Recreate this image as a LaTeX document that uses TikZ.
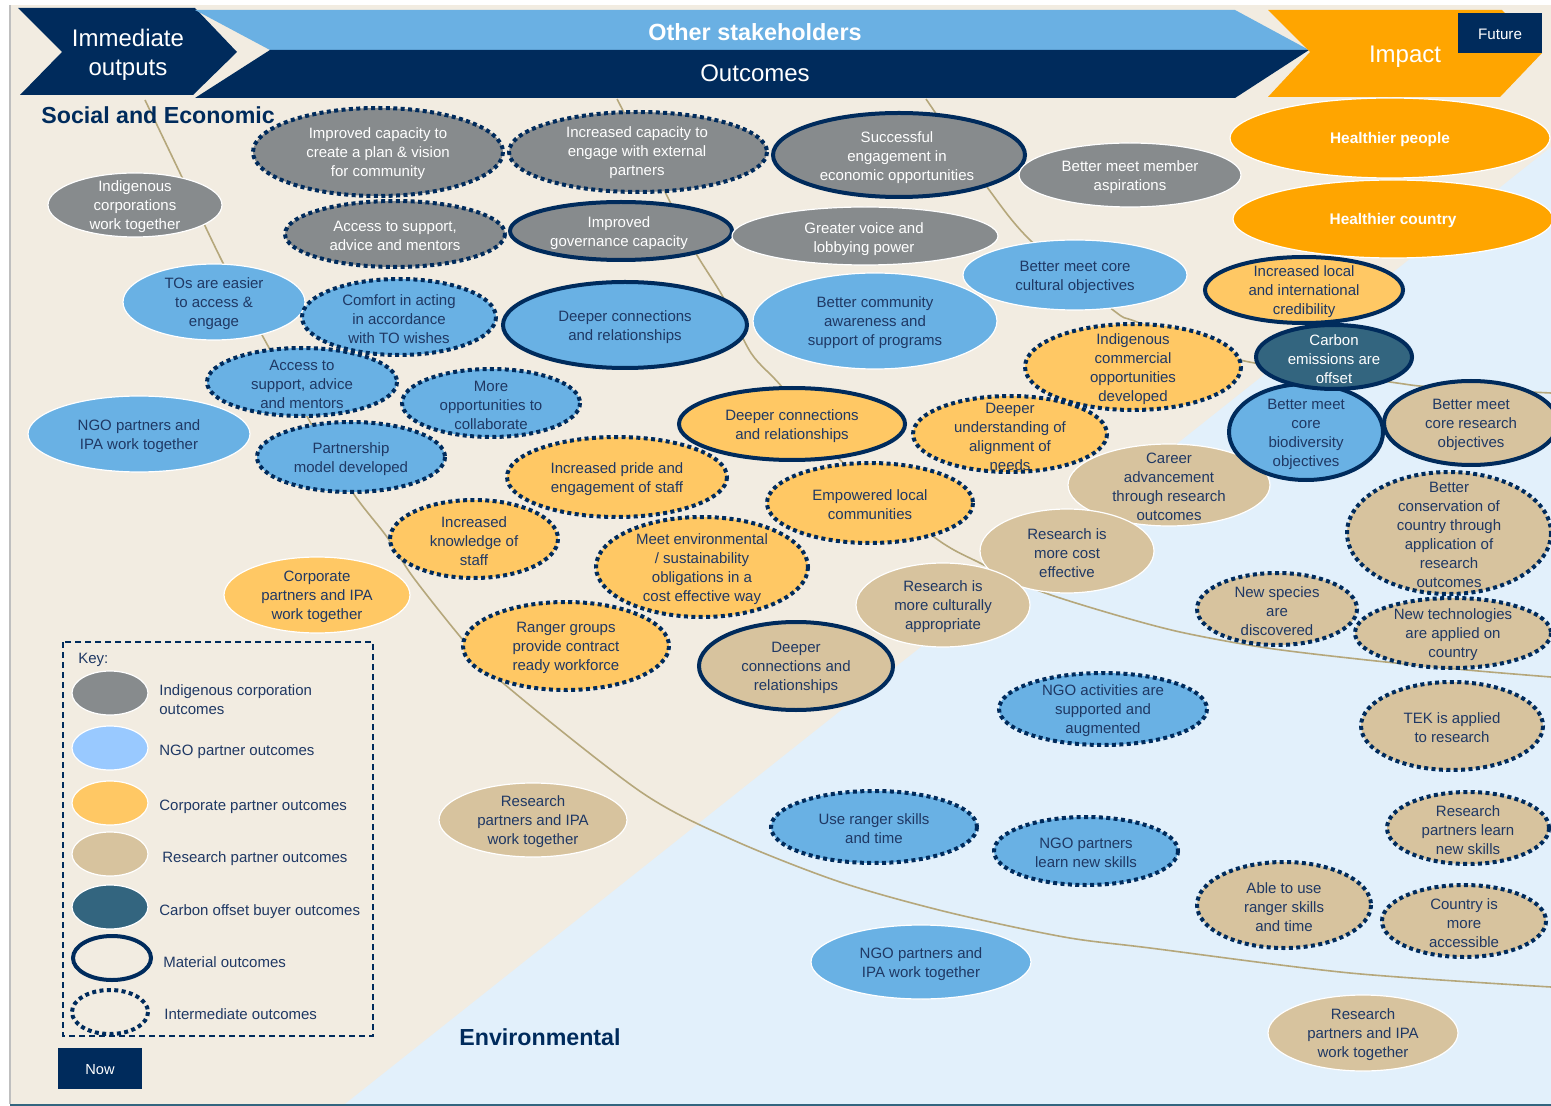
\documentclass[tikz,border=0pt]{standalone}
\usepackage{fontspec}
\setmainfont{Liberation Sans}
\usepackage{tikz}
\usetikzlibrary{backgrounds}
\definecolor{navy}{HTML}{002B5C}
\definecolor{inktext}{HTML}{1F3864}
\definecolor{greyfill}{HTML}{878B8D}
\definecolor{ngofill}{HTML}{69B1E4}
\definecolor{ngokey}{HTML}{99C9FF}
\definecolor{corpfill}{HTML}{FFC864}
\definecolor{resfill}{HTML}{D7C39E}
\definecolor{carbfill}{HTML}{33657F}
\definecolor{impfill}{HTML}{FFA500}
\definecolor{sand}{HTML}{F2ECE1}
\definecolor{sky}{HTML}{E2F0FB}
\definecolor{band}{HTML}{6AB0E3}
\definecolor{strand}{HTML}{B5A77B}
\newcommand{\rimwidth}{2pt}
\newcommand{\txtsize}{\fontsize{7.5}{9.5}\selectfont}

\begin{document}
\begin{tikzpicture}[x=0.5pt, y=-0.5pt,
  ntxt/.style={align=center, inner sep=0pt, text=inktext, font=\txtsize, yshift=-1pt},
  wtxt/.style={ntxt, text=white},
  soft/.style={draw=white, line width=0.6pt},
  material/.style={draw=navy, line width=\rimwidth},
  interm/.style={draw=navy, line width=\rimwidth, dash pattern=on 2pt off 1.7pt}]
\useasboundingbox (0,0) rectangle (1551,1106);
%headers
\node[wtxt, font=\fontsize{12}{14.5}\selectfont] (imm) at (128,53) {Immediate\\outputs};
\node[wtxt, font=\bfseries\fontsize{11.7}{14}\selectfont] (other) at (755,30) {Other stakeholders};
\node[wtxt, font=\fontsize{12}{14}\selectfont] (outc) at (755,71) {Outcomes};
\node[wtxt, font=\fontsize{12}{14}\selectfont] (impact) at (1405,55) {Impact};
\node[wtxt, font=\fontsize{7.6}{9}\selectfont] (future) at (1500,32) {Future};
\node[ntxt, text=navy, anchor=west, font=\bfseries\fontsize{11.6}{14}\selectfont] (soc) at (41,113) {Social and Economic};
\node[ntxt, text=navy, anchor=west, font=\bfseries\fontsize{11.6}{14}\selectfont] (env) at (459,1035) {Environmental};
\node[wtxt, font=\fontsize{7.3}{9}\selectfont] (now) at (100,1068) {Now};
%grey
\node[wtxt] (g1) at (135,205) {Indigenous\\corporations\\work together};
\node[wtxt] (g2) at (378,152) {Improved capacity to\\create a plan \& vision\\for community};
\node[wtxt] (g3) at (395,234) {Access to support,\\advice and mentors};
\node[wtxt] (g4) at (637,151) {Increased capacity to\\engage with external\\partners};
\node[wtxt] (g5) at (897,156) {Successful\\engagement in\\economic opportunities};
\node[wtxt] (g6) at (619,231) {Improved\\governance capacity};
\node[wtxt] (g7) at (864,237) {Greater voice and\\lobbying power};
\node[wtxt] (g8) at (1130,175) {Better meet member\\aspirations};
%impact
\node[wtxt, font=\bfseries\fontsize{7.7}{9.5}\selectfont] (i1) at (1390,138) {Healthier people};
\node[wtxt, font=\bfseries\fontsize{7.7}{9.5}\selectfont] (i2) at (1393,219) {Healthier country};
%ngo
\node[ntxt] (b1) at (214,302) {TOs are easier\\to access \&\\engage};
\node[ntxt] (b2) at (399,317) {Comfort in acting\\in accordance\\with TO wishes};
\node[ntxt] (b3) at (302,382) {Access to\\support, advice\\and mentors};
\node[ntxt] (b4) at (139,434) {NGO partners and\\IPA work together};
\node[ntxt] (b5) at (351,457) {Partnership\\model developed};
\node[ntxt] (b6) at (491,403) {More\\opportunities to\\collaborate};
\node[ntxt] (b7) at (625,325) {Deeper connections\\and relationships};
\node[ntxt] (b8) at (875,321) {Better community\\awareness and\\support of programs};
\node[ntxt] (b9) at (1075,275) {Better meet core\\cultural objectives};
\node[ntxt] (b10) at (1306,432) {Better meet\\core\\biodiversity\\objectives};
\node[ntxt] (b11) at (1103,709) {NGO activities are\\supported and\\augmented};
\node[ntxt] (b12) at (874,827) {Use ranger skills\\and time};
\node[ntxt] (b13) at (1086,851) {NGO partners\\learn new skills};
\node[ntxt] (b14) at (921,962) {NGO partners and\\IPA work together};
%corporate
\node[ntxt] (o1) at (1304,290) {Increased local\\and international\\credibility};
\node[ntxt] (o2) at (1133,367) {Indigenous\\commercial\\opportunities\\developed};
\node[ntxt] (o3) at (792,424) {Deeper connections\\and relationships};
\node[ntxt] (o4) at (1010,435) {Deeper\\understanding of\\alignment of\\needs};
\node[ntxt] (o5) at (617,477) {Increased pride and\\engagement of staff};
\node[ntxt] (o6) at (870,503) {Empowered local\\communities};
\node[ntxt] (o7) at (474,539) {Increased\\knowledge of\\staff};
\node[ntxt] (o8) at (702,567) {Meet environmental\\/ sustainability\\obligations in a\\cost effective way};
\node[ntxt] (o9) at (317,595) {Corporate\\partners and IPA\\work together};
\node[ntxt] (o10) at (566,646) {Ranger groups\\provide contract\\ready workforce};
%research
\node[ntxt] (t1) at (796,666) {Deeper\\connections and\\relationships};
\node[ntxt] (t2) at (943,605) {Research is\\more culturally\\appropriate};
\node[ntxt] (t3) at (1067,551) {Research is\\more cost\\effective};
\node[ntxt] (t4) at (1169,485) {Career\\advancement\\through research\\outcomes};
\node[ntxt] (t5) at (1471,423) {Better meet\\core research\\objectives};
\node[ntxt] (t6) at (1449,533) {Better\\conservation of\\country through\\application of\\research\\outcomes};
\node[ntxt] (t7) at (1277,609) {New species\\are\\discovered};
\node[ntxt] (t8) at (1453,633) {New technologies\\are applied on\\country};
\node[ntxt] (t9) at (1452,726) {TEK is applied\\to research};
\node[ntxt] (t10) at (1468,828) {Research\\partners learn\\new skills};
\node[ntxt] (t11) at (1284,905) {Able to use\\ranger skills\\and time};
\node[ntxt] (t12) at (1464,921) {Country is\\more\\accessible};
\node[ntxt] (t13) at (1363,1033) {Research\\partners and IPA\\work together};
\node[ntxt] (t14) at (533,820) {Research\\partners and IPA\\work together};
%carbon
\node[wtxt] (c1) at (1334,357) {Carbon\\emissions are\\offset};
%key
\node[ntxt, anchor=west] (key) at (78,658) {Key:};
\node[ntxt, anchor=west, align=left] (k1) at (159,698) {Indigenous corporation\\outcomes};
\node[ntxt, anchor=west] (k2) at (159,750) {NGO partner outcomes};
\node[ntxt, anchor=west] (k3) at (159,805) {Corporate partner outcomes};
\node[ntxt, anchor=west] (k4) at (162,857) {Research partner outcomes};
\node[ntxt, anchor=west] (k5) at (159,910) {Carbon offset buyer outcomes};
\node[ntxt, anchor=west] (k6) at (163,960) {Material outcomes};
\node[ntxt, anchor=west] (k7) at (164,1012) {Intermediate outcomes};
\begin{scope}[on background layer]
\fill[sand] (10,5) rectangle (1551,1104);
\fill[sky] (345,1104) -- (1551,147) -- (1551,1104) -- cycle;
\draw[black!25, line width=0.8pt] (10,5) -- (10,1104);
\draw[carbfill, line width=1pt] (10,1105) -- (1551,1105);
\draw[strand, line width=0.8pt] plot[smooth] coordinates {(145,100) (180,173) (223,263) (262,335) (313,427) (353,493) (387,537) (413,577) (463,640) (503,683) (641,792) (733,840) (840,882) (947,912) (1064,937) (1150,948) (1350,973) (1551,987)};
\draw[strand, line width=0.8pt] plot[smooth] coordinates {(617,99) (664,190) (694,250) (723,297) (751,353) (782,387) (837,457) (934,537) (980,563) (1037,590) (1109,613) (1180,632) (1267,648) (1367,660) (1467,670) (1551,677)};
\draw[strand, line width=0.8pt] plot[smooth] coordinates {(926,99) (987,187) (1030,240) (1113,310) (1137,322) (1240,360) (1390,382) (1433,387) (1551,393)};
%arrows
\fill[navy] (18,8) -- (195,8) -- (237,52) -- (193,95) -- (20,95) -- (62,52) -- cycle;
\fill[band] (195,10) -- (1235,10) -- (1309,50) -- (270,50) -- cycle;
\fill[navy] (270,50) -- (1309,50) -- (1235,98) -- (195,98) -- cycle;
\fill[impfill] (1268,10) -- (1502,10) -- (1542,53) -- (1500,97) -- (1268,97) -- (1310,52) -- cycle;
\fill[navy] (1458,13) rectangle (1542,53);
\fill[navy] (58,1048) rectangle (142,1089);
%grey
\filldraw[fill=greyfill, soft] (135,205) ellipse (87 and 32);
\filldraw[fill=greyfill, interm] (378,152) ellipse (125 and 44);
\filldraw[fill=greyfill, interm] (395,234) ellipse (110 and 33);
\filldraw[fill=greyfill, interm] (638,152) ellipse (129 and 40);
\filldraw[fill=greyfill, material] (899,155) ellipse (126 and 42);
\filldraw[fill=greyfill, material] (621,231) ellipse (111 and 29);
\filldraw[fill=greyfill, soft] (865,236) ellipse (133 and 29);
\filldraw[fill=greyfill, soft] (1130,175) ellipse (111 and 32);
%impact
\filldraw[fill=impfill, soft] (1390,138) ellipse (160 and 40);
\filldraw[fill=impfill, soft] (1393,219) ellipse (160 and 39);
%ngo
\filldraw[fill=ngofill, soft] (214,302) ellipse (91 and 38);
\filldraw[fill=ngofill, interm] (399,317) ellipse (97 and 38);
\filldraw[fill=ngofill, interm] (302,382) ellipse (95 and 34);
\filldraw[fill=ngofill, soft] (139,434) ellipse (111 and 38);
\filldraw[fill=ngofill, interm] (351,457) ellipse (94 and 35);
\filldraw[fill=ngofill, interm] (491,403) ellipse (89 and 34);
\filldraw[fill=ngofill, material] (625,325) ellipse (122 and 43);
\filldraw[fill=ngofill, soft] (875,321) ellipse (122 and 48);
\filldraw[fill=ngofill, soft] (1075,275) ellipse (112 and 35);
\filldraw[fill=ngofill, interm] (1103,709) ellipse (104 and 36);
\filldraw[fill=ngofill, interm] (874,827) ellipse (103 and 36);
\filldraw[fill=ngofill, interm] (1086,851) ellipse (92 and 34);
\filldraw[fill=ngofill, soft] (921,962) ellipse (110 and 37);
%corporate
\filldraw[fill=corpfill, material] (1304,290) ellipse (99 and 33);
\filldraw[fill=corpfill, interm] (1133,367) ellipse (108 and 43);
\filldraw[fill=corpfill, material] (792,424) ellipse (113 and 36);
\filldraw[fill=corpfill, interm] (1010,434) ellipse (97 and 38);
\filldraw[fill=corpfill, interm] (617,477) ellipse (110 and 40);
\filldraw[fill=corpfill, interm] (870,503) ellipse (103 and 40);
\filldraw[fill=corpfill, interm] (474,539) ellipse (84 and 39);
\filldraw[fill=corpfill, interm] (702,567) ellipse (106 and 50);
\filldraw[fill=corpfill, soft] (317,595) ellipse (93 and 38);
\filldraw[fill=corpfill, interm] (566,646) ellipse (103 and 44);
%research
\filldraw[fill=resfill, material] (796,666) ellipse (97 and 44);
\filldraw[fill=resfill, soft] (1169,485) ellipse (101 and 41);
\filldraw[fill=resfill, soft] (1067,551) ellipse (87 and 42);
\filldraw[fill=resfill, soft] (943,605) ellipse (87 and 42);
\filldraw[fill=resfill, material] (1471,423) ellipse (87 and 42);
\filldraw[fill=resfill, interm] (1449,533) ellipse (102 and 61);
\filldraw[fill=resfill, interm] (1277,609) ellipse (80 and 36);
\filldraw[fill=resfill, interm] (1453,633) ellipse (98 and 35);
\filldraw[fill=resfill, interm] (1452,726) ellipse (91 and 44);
\filldraw[fill=resfill, interm] (1468,828) ellipse (81 and 36);
\filldraw[fill=resfill, interm] (1284,905) ellipse (87 and 43);
\filldraw[fill=resfill, interm] (1464,921) ellipse (82 and 36);
\filldraw[fill=resfill, soft] (1363,1033) ellipse (95 and 38);
\filldraw[fill=resfill, soft] (533,820) ellipse (94 and 37);
%carbon
\filldraw[fill=ngofill, material] (1306,432) ellipse (77 and 48);
\filldraw[fill=carbfill, material] (1334,357) ellipse (78 and 32);
%key
\draw[navy, line width=0.8pt, dash pattern=on 3pt off 2pt] (63,642) rectangle (373,1036);
\filldraw[fill=greyfill, soft] (110,693) ellipse (38 and 22);
\filldraw[fill=ngokey, soft] (110,748) ellipse (38 and 22);
\filldraw[fill=corpfill, soft] (110,803) ellipse (38 and 22);
\filldraw[fill=resfill, soft] (110,854) ellipse (38 and 22);
\filldraw[fill=carbfill, soft] (110,907) ellipse (38 and 22);
\draw[material] (112,958) ellipse (39 and 22);
\draw[interm] (110,1012) ellipse (38 and 22);
\end{scope}
\end{tikzpicture}
\end{document}
